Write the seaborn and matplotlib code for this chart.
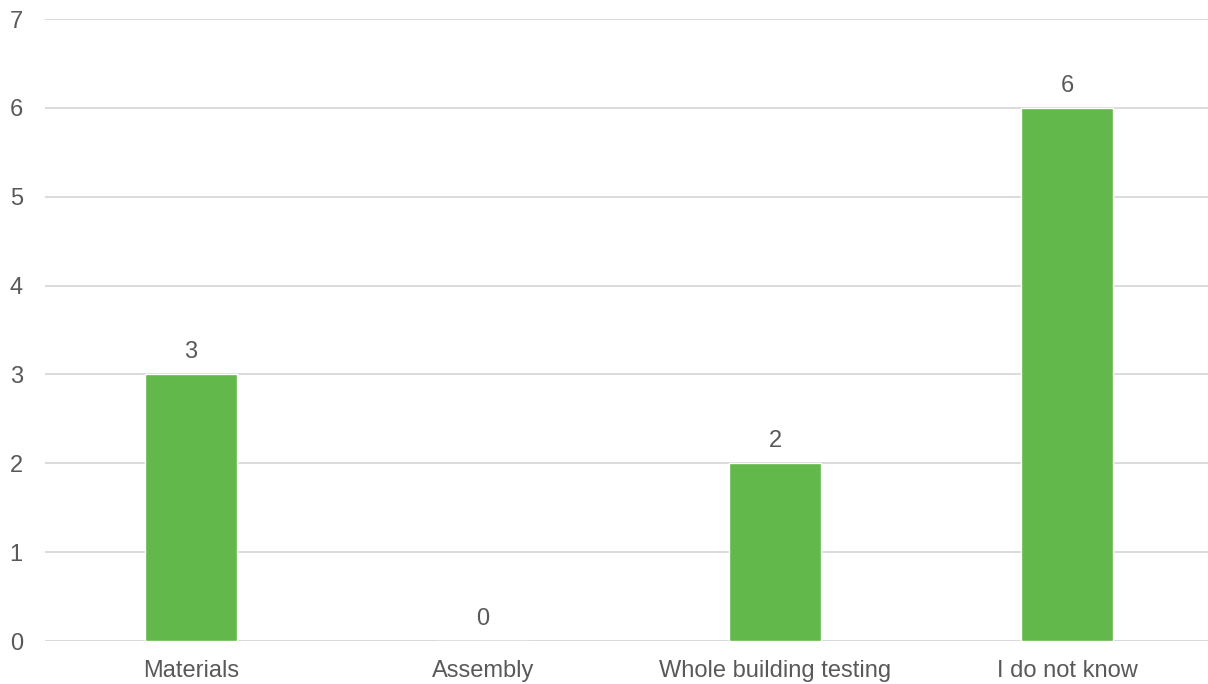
import matplotlib
matplotlib.use("Agg")
import matplotlib.pyplot as plt
import seaborn as sns
import pandas as pd

categories = ["Materials", "Assembly", "Whole building testing", "I do not know"]
counts = [3, 0, 2, 6]
y_ticks = [0, 1, 2, 3, 4, 5, 6, 7]

sns.set_theme(style="white")
plt.rcParams["font.family"] = ["Liberation Sans", "DejaVu Sans"]

text_color = "#595959"
bar_color = "#62B84B"
grid_color = "#D9D9D9"

df = pd.DataFrame({"category": categories, "count": counts})

fig = plt.figure(figsize=(12.08, 6.84), dpi=100)
ax = fig.add_axes([45 / 1208, 43 / 684, (1213 - 45) / 1208, (641 - 19) / 684])

sns.barplot(data=df, x="category", y="count", color=bar_color, saturation=1,
            width=0.315, ax=ax, zorder=3)

ax.set_ylim(0, 7)
ax.set_yticks(y_ticks)
ax.set_xlim(-0.5, len(categories) - 0.5)
ax.yaxis.grid(True, color=grid_color, linewidth=1.3, zorder=0)
ax.set_axisbelow(True)
for side in ["top", "right", "left", "bottom"]:
    ax.spines[side].set_visible(False)
ax.axhline(0, color=grid_color, linewidth=1.3, zorder=1)

ax.set_xlabel("")
ax.set_ylabel("")
ax.tick_params(axis="both", length=0, labelsize=17, colors=text_color)
ax.tick_params(axis="y", pad=16)
ax.tick_params(axis="x", pad=14)

for i, v in enumerate(counts):
    ax.annotate(str(v), (i, v), xytext=(0, 8), textcoords="offset points",
                ha="center", va="bottom", fontsize=17, color=text_color)

fig.savefig("out.png", dpi=100)
